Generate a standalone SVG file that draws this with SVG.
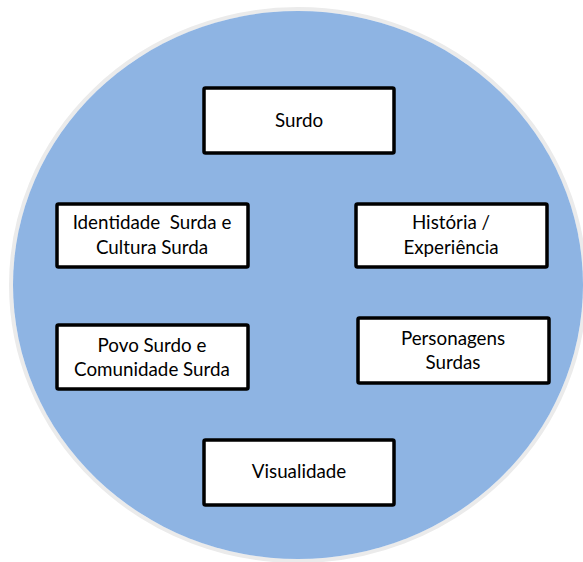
<svg xmlns="http://www.w3.org/2000/svg" width="583" height="562" viewBox="0 0 583 562">
<style>
.box{fill:#ffffff;stroke:#000000;stroke-width:3.5}
.t{font-family:"Lato","Liberation Sans",sans-serif;font-size:18.8px;fill:#000000;text-anchor:middle}
</style>
<rect width="583" height="562" fill="#ffffff"/>
<g id="circle">
<ellipse cx="298" cy="285" rx="287" ry="276" fill="none" stroke="#ebebeb" stroke-width="4"/>
<ellipse cx="298" cy="285" rx="285" ry="274" fill="#8EB4E3"/>
</g>
<g id="connectors"></g>
<g id="surdo">
<rect class="box" x="204" y="88" width="190" height="65" rx="1.5"/>
<text class="t" x="299" y="127">Surdo</text>
</g>
<g id="identidade">
<rect class="box" x="57" y="204" width="191" height="63" rx="1.5"/>
<text class="t" x="152" y="229" xml:space="preserve">Identidade  Surda e</text>
<text class="t" x="152" y="254">Cultura Surda</text>
</g>
<g id="historia">
<rect class="box" x="356" y="204" width="191" height="63" rx="1.5"/>
<text class="t" x="451" y="229">História /</text>
<text class="t" x="451" y="254">Experiência</text>
</g>
<g id="povo">
<rect class="box" x="57" y="325" width="191" height="64" rx="1.5"/>
<text class="t" x="152" y="352">Povo Surdo e</text>
<text class="t" x="152" y="376">Comunidade Surda</text>
</g>
<g id="personagens">
<rect class="box" x="358" y="318" width="191" height="65" rx="1.5"/>
<text class="t" x="453" y="345">Personagens</text>
<text class="t" x="453" y="369">Surdas</text>
</g>
<g id="visualidade">
<rect class="box" x="204" y="440" width="190" height="65" rx="1.5"/>
<text class="t" x="299" y="478">Visualidade</text>
</g>
</svg>
